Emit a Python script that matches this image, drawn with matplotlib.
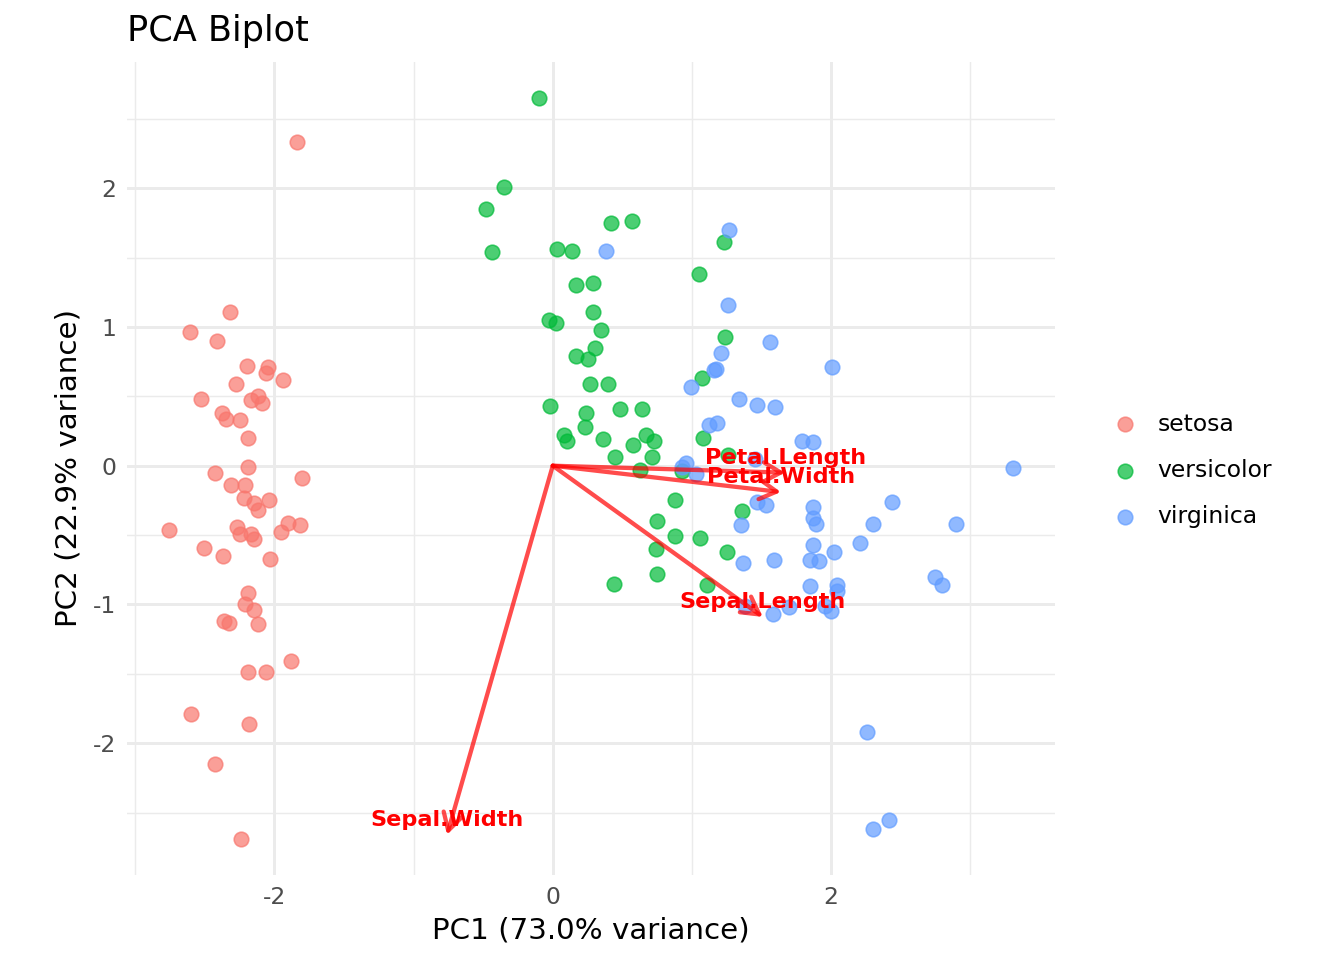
import matplotlib
matplotlib.use('Agg')
import matplotlib.pyplot as plt

plt.rcParams['axes.unicode_minus'] = False

# PCA scores
setosa_pc1 = [-1.84, -2.32, -2.61, -2.41, -2.20, -2.05, -2.06, -1.94, -2.28, -2.53,
              -2.12, -2.17, -2.09, -2.38, -2.35, -2.25, -2.19, -2.19, -2.43, -1.80,
              -2.31, -2.21, -2.22, -2.04, -2.15, -2.12, -2.76, -2.27, -2.25, -2.17,
              -2.15, -1.95, -1.90, -1.82, -2.51, -2.37, -2.03, -2.19, -2.21, -2.15,
              -2.36, -2.33, -2.12, -1.88, -2.19, -2.06, -2.60, -2.18, -2.43, -2.24]
setosa_pc2 = [2.33, 1.11, 0.96, 0.90, 0.72, 0.71, 0.67, 0.62, 0.59, 0.48,
              0.50, 0.47, 0.45, 0.38, 0.34, 0.33, 0.20, -0.01, -0.05, -0.09,
              -0.14, -0.14, -0.23, -0.25, -0.27, -0.32, -0.46, -0.44, -0.49, -0.49,
              -0.53, -0.48, -0.41, -0.43, -0.59, -0.65, -0.67, -0.92, -1.00, -1.04,
              -1.12, -1.13, -1.14, -1.41, -1.49, -1.49, -1.79, -1.86, -2.15, -2.69]

versicolor_pc1 = [-0.10, -0.35, -0.48, -0.44, 0.42, 0.57, 0.03, 0.14, 1.23, 1.05,
                  0.29, 0.17, 0.29, -0.03, 0.02, 0.35, 1.24, 0.30, 0.17, 0.25,
                  1.07, 0.27, 0.40, -0.02, 0.24, 0.48, 0.64, 0.23, 0.08, 0.10,
                  0.36, 0.67, 0.73, 0.58, 0.71, 0.45, 0.63, 1.08, 1.26, 0.93,
                  0.88, 0.75, 0.88, 1.06, 0.74, 1.25, 0.75, 0.44, 1.11, 1.36]
versicolor_pc2 = [2.65, 2.01, 1.85, 1.54, 1.75, 1.76, 1.56, 1.55, 1.61, 1.38,
                  1.32, 1.30, 1.11, 1.05, 1.03, 0.98, 0.93, 0.85, 0.79, 0.77,
                  0.63, 0.59, 0.59, 0.43, 0.38, 0.41, 0.41, 0.28, 0.22, 0.18,
                  0.19, 0.22, 0.18, 0.15, 0.06, 0.06, -0.03, 0.20, 0.08, -0.04,
                  -0.25, -0.40, -0.51, -0.52, -0.60, -0.62, -0.78, -0.85, -0.86, -0.33]

virginica_pc1 = [0.38, 1.27, 1.26, 1.56, 1.21, 1.16, 1.17, 0.99, 2.01, 1.34,
                 1.47, 1.60, 1.12, 1.18, 1.79, 1.87, 1.45, 0.96, 0.93, 1.03,
                 1.47, 1.53, 1.87, 1.87, 1.89, 1.35, 1.87, 2.02, 1.85, 1.91,
                 1.37, 1.59, 1.85, 2.04, 2.04, 1.38, 1.58, 1.70, 1.96, 2.00,
                 3.31, 2.44, 2.30, 2.90, 2.21, 2.75, 2.80, 2.26, 2.42, 2.30]
virginica_pc2 = [1.55, 1.70, 1.16, 0.89, 0.81, 0.69, 0.70, 0.57, 0.71, 0.48,
                 0.44, 0.42, 0.29, 0.31, 0.18, 0.17, 0.05, 0.02, -0.01, -0.06,
                 -0.26, -0.28, -0.30, -0.38, -0.42, -0.43, -0.57, -0.62, -0.68, -0.69,
                 -0.70, -0.68, -0.87, -0.86, -0.90, -1.01, -1.07, -1.02, -1.01, -1.05,
                 -0.02, -0.26, -0.42, -0.42, -0.56, -0.80, -0.86, -1.92, -2.55, -2.62]

# loading arrows (tips)
variables = ['Sepal.Length', 'Sepal.Width', 'Petal.Length', 'Petal.Width']
load_pc1 = [1.51, -0.76, 1.67, 1.64]
load_pc2 = [-1.09, -2.66, -0.05, -0.19]

species = ['setosa', 'versicolor', 'virginica']
colors = ['#F8766D', '#00BA38', '#619CFF']
scores = [(setosa_pc1, setosa_pc2), (versicolor_pc1, versicolor_pc2),
          (virginica_pc1, virginica_pc2)]

fig = plt.figure(figsize=(7, 5), dpi=192)
ax = fig.add_axes([0.0945, 0.0885, 0.6905, 0.847])

for name, col, (px, py) in zip(species, colors, scores):
    ax.scatter(px, py, s=30, color=col, alpha=0.7, edgecolors=col,
               linewidths=0.6, label=name, zorder=3)

for var, lx, ly in zip(variables, load_pc1, load_pc2):
    ax.annotate('', xy=(lx, ly), xytext=(0, 0),
                arrowprops=dict(arrowstyle='->,head_length=0.32,head_width=0.18',
                                mutation_scale=20, color='red', alpha=0.7,
                                lw=1.6, shrinkA=0, shrinkB=0),
                zorder=4)
    ax.annotate(var, xy=(lx, ly), xytext=(0, 5.5), textcoords='offset points',
                ha='center', va='center', color='red', fontsize=8.4,
                fontweight='bold', zorder=5)

ax.set_xlim(-3.06, 3.61)
ax.set_ylim(-2.95, 2.91)
ax.set_xticks([-2, 0, 2])
ax.set_yticks([-2, -1, 0, 1, 2])
ax.set_xticks([-3, -1, 1, 3], minor=True)
ax.set_yticks([-2.5, -1.5, -0.5, 0.5, 1.5, 2.5], minor=True)
ax.grid(True, which='major', color='#EBEBEB', lw=1.1, zorder=0)
ax.grid(True, which='minor', color='#EBEBEB', lw=0.55, zorder=0)
ax.set_axisbelow(True)
ax.tick_params(which='both', length=0, labelsize=8.8, labelcolor='#4D4D4D', pad=4)
for sp in ax.spines.values():
    sp.set_visible(False)

ax.set_xlabel('PC1 (73.0% variance)', fontsize=11, labelpad=3)
ax.set_ylabel('PC2 (22.9% variance)', fontsize=11, labelpad=3.8)
ax.set_title('PCA Biplot', fontsize=13.2, loc='left', pad=8)

ax.legend(loc='center left', bbox_to_anchor=(1.05, 0.4975), frameon=False,
          fontsize=8.8, handlelength=1.0, handletextpad=0.9, labelspacing=1.0,
          borderpad=0, markerscale=1.0)

fig.savefig('out.png', dpi=192)
